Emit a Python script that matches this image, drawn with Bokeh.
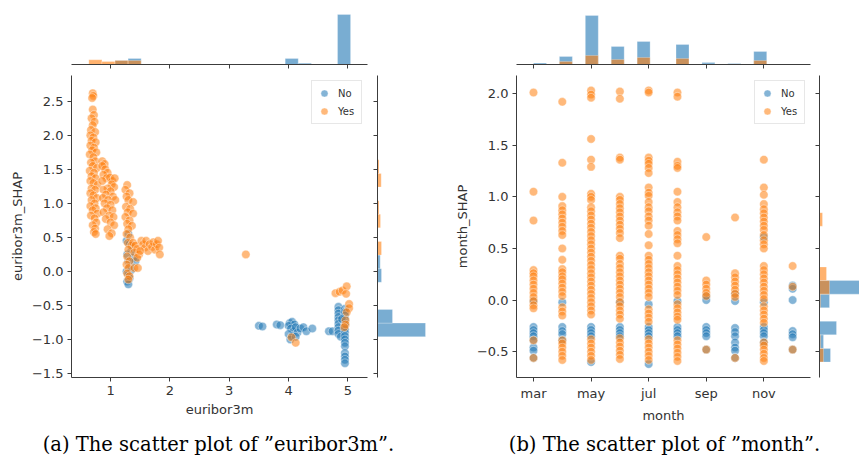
from bokeh.plotting import figure
from bokeh.layouts import row, column
from bokeh.models import FixedTicker, Range1d
from bokeh.core.properties import value
from bokeh.embed import file_html
from bokeh.resources import INLINE

BLUE = "#1f77b4"
ORANGE = "#ff7f0e"
TXT = "#333333"
AX = "#3c3c3c"
SANS = "DejaVu Sans"
SERIF = "DejaVu Serif"

# ---------------- panel (a): euribor3m ----------------
eur_ticks = [1, 2, 3, 4, 5]
eur_shap_ticks = [-1.5, -1.0, -0.5, 0.0, 0.5, 1.0, 1.5, 2.0, 2.5]

eur_no = [
    (1.30, 0.55), (1.27, 0.45), (1.32, 0.40), (1.35, 0.30), (1.28, 0.25), (1.30, 0.15),
    (1.33, 0.08), (1.27, 0.00), (1.30, -0.05), (1.32, -0.10), (1.28, -0.15), (1.30, -0.19),
    (1.35, 0.02), (1.38, 0.20), (1.42, 0.15),
    (3.50, -0.80), (3.56, -0.81), (3.80, -0.78), (3.86, -0.79), (4.02, -0.76), (4.06, -0.74),
    (4.10, -0.78), (4.00, -0.80), (4.04, -0.84), (4.08, -0.88), (4.12, -0.82), (4.00, -0.92),
    (4.06, -0.95), (4.15, -0.90), (4.03, -1.00), (4.20, -0.84), (4.25, -0.82), (4.30, -0.88),
    (4.40, -0.84), (4.12, -0.96),
    (4.68, -0.88), (4.74, -0.88), (4.84, -0.52), (4.84, -0.57), (4.84, -0.62), (4.84, -0.67),
    (4.84, -0.72), (4.84, -0.77), (4.84, -0.82), (4.84, -0.87), (4.84, -0.92), (4.88, -0.96),
    (4.95, -0.55), (4.95, -0.60), (4.95, -0.65), (4.95, -0.70), (4.95, -0.75), (4.95, -0.80),
    (4.95, -0.85), (4.95, -0.90), (4.95, -0.95), (4.95, -1.00), (4.95, -1.05), (4.95, -1.10),
    (4.95, -1.20), (4.95, -1.25), (4.95, -1.30), (4.95, -1.35), (4.90, -0.70),
]

eur_yes = [
    (0.70, 2.62), (0.71, 2.58), (0.69, 2.55), (0.70, 2.38), (0.72, 2.30), (0.68, 2.25),
    (0.73, 2.20), (0.70, 2.15), (0.67, 2.08), (0.74, 2.05), (0.66, 2.00), (0.71, 1.97),
    (0.68, 1.92), (0.75, 1.90), (0.66, 1.85), (0.72, 1.82), (0.69, 1.78), (0.76, 1.75),
    (0.65, 1.72), (0.71, 1.68), (0.74, 1.62), (0.67, 1.60), (0.70, 1.55), (0.77, 1.52),
    (0.65, 1.48), (0.72, 1.45), (0.68, 1.40), (0.75, 1.37), (0.66, 1.33), (0.71, 1.30),
    (0.78, 1.27), (0.68, 1.22), (0.74, 1.20), (0.66, 1.15), (0.71, 1.12), (0.77, 1.08),
    (0.68, 1.05), (0.73, 1.00), (0.66, 0.96), (0.75, 0.93), (0.70, 0.90), (0.78, 0.85),
    (0.67, 0.82), (0.73, 0.78), (0.76, 0.72), (0.70, 0.68), (0.74, 0.63), (0.72, 0.58),
    (0.75, 0.55),
    (0.86, 1.62), (0.90, 1.58), (0.86, 1.55), (0.91, 1.50), (0.95, 1.45), (0.88, 1.42),
    (0.93, 1.37), (0.86, 1.33), (0.99, 1.38), (1.03, 1.33), (1.07, 1.37), (1.02, 1.28),
    (1.06, 1.24), (0.95, 1.22), (0.88, 1.20), (1.00, 1.18), (0.92, 1.13), (1.04, 1.10),
    (0.87, 1.08), (0.96, 1.05), (1.08, 1.05), (0.90, 1.00), (1.00, 0.98), (0.94, 0.93),
    (1.03, 0.90), (0.88, 0.87), (0.98, 0.82), (1.05, 0.80), (0.92, 0.77), (1.00, 0.72),
    (1.06, 0.68), (0.95, 0.62), (1.02, 0.56), (0.98, 0.52),
    (1.28, 1.27), (1.25, 1.20), (1.32, 1.15), (1.27, 1.10), (1.30, 1.05), (1.38, 1.02),
    (1.26, 0.95), (1.33, 0.92), (1.29, 0.87), (1.38, 0.85), (1.25, 0.80), (1.32, 0.75),
    (1.28, 0.70), (1.36, 0.67), (1.30, 0.62), (1.27, 0.55), (1.33, 0.50), (1.29, 0.42),
    (1.35, 0.38), (1.30, 0.32), (1.28, 0.22), (1.32, 0.15), (1.27, 0.10), (1.30, 0.05),
    (1.40, 0.05), (1.46, 0.05), (1.28, -0.03), (1.32, -0.07), (1.30, -0.12),
    (1.38, 0.42), (1.42, 0.38), (1.45, 0.33), (1.40, 0.28), (1.48, 0.25), (1.52, 0.45),
    (1.55, 0.40), (1.58, 0.35), (1.60, 0.45), (1.63, 0.30), (1.66, 0.40), (1.70, 0.36),
    (1.72, 0.43), (1.75, 0.32), (1.78, 0.40), (1.80, 0.45), (1.82, 0.35), (1.83, 0.25),
    (1.45, 0.20), (1.50, 0.30),
    (3.28, 0.25),
    (4.05, -0.97), (4.12, -1.05),
    (4.79, -0.32), (4.86, -0.30), (4.91, -0.28), (4.98, -0.22), (4.97, -0.33), (5.02, -0.48),
    (5.02, -0.54), (4.98, -0.60), (4.96, -0.72), (4.96, -0.78), (4.94, -0.82),
]

eur_bins = [0.634, 0.855, 1.075, 1.296, 1.516, 1.737, 1.958, 2.178, 2.399, 2.619, 2.840,
            3.060, 3.281, 3.501, 3.722, 3.943, 4.163, 4.384, 4.604, 4.825, 5.045]
eur_no_counts = [0, 0, 4, 6, 0, 0, 0, 0, 0, 0, 0, 0, 0, 0, 0, 6, 1.3, 0, 0, 50]
eur_yes_counts = [4.7, 3, 4, 4, 0, 0, 0, 0, 0, 0, 0, 0, 0, 0, 0, 0, 0, 0, 0, 0]

eur_shap_bins = [-1.36, -1.16, -0.96, -0.76, -0.56, -0.36, -0.16, 0.04, 0.24, 0.44, 0.64,
                 0.84, 1.04, 1.24, 1.44, 1.64, 1.84, 2.04, 2.24, 2.44, 2.64]
eur_shap_no_counts = [0, 0, 48, 15, 0, 0, 4, 2.7, 0, 0, 0, 0, 0, 0, 0, 0, 0, 0, 0, 0]
eur_shap_yes_counts = [0, 0, 0, 0, 0, 0, 0, 0, 4, 0, 3, 1.5, 0, 3.7, 1.5, 0, 0, 0, 0, 0]

# ---------------- panel (b): month ----------------
month_ticks = [3, 5, 7, 9, 11]
month_tick_labels = ["mar", "may", "jul", "sep", "nov"]
month_shap_ticks = [-0.5, 0.0, 0.5, 1.0, 1.5, 2.0]
month_pos = {"mar": 3, "apr": 4, "may": 5, "jun": 6, "jul": 7,
             "aug": 8, "sep": 9, "oct": 10, "nov": 11, "dec": 12}

yes_mar = [2.01, 1.05, 0.77, 0.29, 0.26, 0.23, 0.19, 0.15, 0.11, 0.07, 0.03, -0.01, -0.05, -0.08, -0.39, -0.56]
no_mar = [-0.01, -0.26, -0.29, -0.32, -0.35, -0.39, -0.46, -0.49, -0.56]
yes_apr = [1.92, 1.33, 1.0, 0.91, 0.87, 0.83, 0.79, 0.75, 0.71, 0.67, 0.63, 0.5, 0.39, 0.3, 0.27, 0.23,
           0.2, 0.16, 0.12, 0.08, 0.04, -0.07, -0.11, -0.15, -0.39, -0.42, -0.46, -0.5, -0.54, -0.58]
no_apr = [-0.02, -0.26, -0.3, -0.33, -0.39]
yes_may = [2.03, 1.99, 1.96, 1.56, 1.36, 1.29, 1.03, 1.0, 0.97, 0.9, 0.86, 0.82, 0.78, 0.74, 0.7, 0.66,
           0.62, 0.58, 0.54, 0.5, 0.46, 0.42, 0.38, 0.34, 0.3, 0.26, 0.22, 0.18, 0.14, 0.1, 0.06, 0.02,
           -0.02, -0.06, -0.1, -0.14, -0.38, -0.42, -0.46, -0.5, -0.54, -0.58]
no_may = [-0.26, -0.29, -0.32, -0.35, -0.6]
yes_jun = [2.02, 1.95, 1.38, 1.36, 1.0, 0.97, 0.93, 0.89, 0.85, 0.81, 0.77, 0.73, 0.69, 0.65, 0.6, 0.43,
           0.4, 0.35, 0.31, 0.27, 0.23, 0.19, 0.15, 0.11, 0.07, 0.03, -0.02, -0.06, -0.1, -0.14, -0.18,
           -0.37, -0.41, -0.45, -0.49, -0.53, -0.57]
no_jun = [-0.02, -0.26, -0.29, -0.32, -0.35]
yes_jul = [2.03, 2.01, 1.38, 1.35, 1.32, 1.28, 1.23, 1.09, 1.04, 1.01, 0.95, 0.9, 0.86, 0.81, 0.77, 0.72,
           0.64, 0.53, 0.43, 0.39, 0.35, 0.31, 0.27, 0.23, 0.19, 0.15, 0.11, 0.07, 0.03, -0.09, -0.13,
           -0.17, -0.21, -0.38, -0.42, -0.46, -0.5, -0.54, -0.58]
no_jul = [-0.04, -0.26, -0.29, -0.32, -0.35, -0.62]
yes_aug = [2.01, 1.97, 1.34, 1.3, 1.28, 1.05, 0.95, 0.9, 0.85, 0.81, 0.77, 0.67, 0.63, 0.59, 0.55, 0.43,
           0.33, 0.29, 0.25, 0.21, 0.17, 0.13, 0.09, 0.05, -0.04, -0.08, -0.12, -0.16, -0.19, -0.39,
           -0.43, -0.47, -0.51, -0.55, -0.59]
no_aug = [-0.01, -0.26, -0.29, -0.32, -0.35]
yes_sep = [0.61, 0.19, 0.15, 0.11, 0.07, 0.04, -0.48]
no_sep = [0.04, 0.0, -0.26, -0.29, -0.32, -0.35, -0.48]
yes_oct = [0.8, 0.26, 0.22, 0.18, 0.14, 0.1, 0.06, 0.03, -0.56]
no_oct = [0.06, -0.01, -0.27, -0.31, -0.35, -0.41, -0.46, -0.49, -0.56]
yes_nov = [1.36, 1.09, 1.02, 0.93, 0.88, 0.84, 0.8, 0.76, 0.72, 0.68, 0.63, 0.58, 0.54, 0.5, 0.33, 0.29,
           0.25, 0.21, 0.17, 0.13, 0.09, 0.05, 0.01, -0.06, -0.1, -0.14, -0.18, -0.22, -0.41, -0.44,
           -0.48, -0.52, -0.56, -0.59]
no_nov = [0.61, -0.02, -0.26, -0.29, -0.32, -0.35, -0.41]
yes_dec = [0.33, 0.13, -0.48]
no_dec = [0.14, 0.11, 0.0, -0.3, -0.33, -0.36, -0.48]

month_yes = {"mar": yes_mar, "apr": yes_apr, "may": yes_may, "jun": yes_jun, "jul": yes_jul,
             "aug": yes_aug, "sep": yes_sep, "oct": yes_oct, "nov": yes_nov, "dec": yes_dec}
month_no = {"mar": no_mar, "apr": no_apr, "may": no_may, "jun": no_jun, "jul": no_jul,
            "aug": no_aug, "sep": no_sep, "oct": no_oct, "nov": no_nov, "dec": no_dec}

month_bins = [3.0, 3.45, 3.9, 4.35, 4.8, 5.25, 5.7, 6.15, 6.6, 7.05, 7.5,
              7.95, 8.4, 8.85, 9.3, 9.75, 10.2, 10.65, 11.1, 11.55, 12.0]
month_no_counts = [1.5, 0, 8, 0, 49, 0, 18, 0, 23, 0, 0, 20, 0, 2, 0, 1, 0, 13, 0, 0.4]
month_yes_counts = [0.4, 0, 3, 0, 9, 0, 5, 0, 7, 0, 0, 6, 0, 0.5, 0, 0.5, 0, 4, 0, 0.3]

month_shap_bins = [-0.6, -0.4685, -0.337, -0.2055, -0.074, 0.0575, 0.189, 0.3205, 0.452, 0.5835,
                   0.715, 0.8465, 0.978, 1.1095, 1.241, 1.3725, 1.504, 1.6355, 1.767, 1.8985, 2.03]
month_shap_no_counts = [11, 4, 17, 0, 10, 50, 0, 0, 0, 0, 0, 0, 0, 0, 0, 0, 0, 0, 0, 0]
month_shap_yes_counts = [4, 1, 0, 0, 1, 10, 7, 0, 0, 0, 3, 0, 0, 0, 0, 0, 0, 0, 0, 0]

captions = ["(a) The scatter plot of \u201deuribor3m\u201d.",
            "(b) The scatter plot of \u201dmonth\u201d."]


# ---------------- helpers ----------------
def fmt(v):
    return f"{v:.1f}".replace("-", "\u2212")


def make_fig(**kw):
    p = figure(output_backend="svg", toolbar_location=None, outline_line_color=None,
               background_fill_color="white", border_fill_color="white", **kw)
    p.grid.visible = False
    return p


def style_axis(ax, ticks, overrides=None, show_labels=True, label=None):
    ax.ticker = FixedTicker(ticks=ticks)
    ax.minor_tick_line_color = None
    ax.major_tick_in = 0
    ax.major_tick_out = 4
    ax.major_tick_line_color = AX
    ax.major_tick_line_width = 1
    ax.axis_line_color = AX
    ax.axis_line_width = 1
    if overrides:
        ax.major_label_overrides = overrides
    ax.major_label_text_font = SANS
    if show_labels:
        ax.major_label_text_color = TXT
        ax.major_label_text_font_size = "13px"
        ax.major_label_standoff = 4
    else:
        ax.major_label_text_color = None
        ax.major_label_text_font_size = "1px"
        ax.major_label_standoff = 0
    if label:
        ax.axis_label = label
        ax.axis_label_text_font = SANS
        ax.axis_label_text_font_size = "13px"
        ax.axis_label_text_font_style = "normal"
        ax.axis_label_text_color = TXT
        ax.axis_label_standoff = 4


def scatter_panel(p, no_x, no_y, yes_x, yes_y):
    p.scatter(no_x, no_y, size=8.5, fill_color=BLUE, fill_alpha=0.55, line_color="white",
              line_width=0.6, line_alpha=0.7, legend_label="No")
    p.scatter(yes_x, yes_y, size=8.5, fill_color=ORANGE, fill_alpha=0.55, line_color="white",
              line_width=0.6, line_alpha=0.7, legend_label="Yes")
    lg = p.legend[0]
    lg.location = "top_right"
    lg.margin = 5
    lg.padding = 3
    lg.spacing = -4
    lg.glyph_width = 18
    lg.glyph_height = 18
    lg.label_height = 12
    lg.label_standoff = 5
    lg.label_text_font = SANS
    lg.label_text_font_size = "10px"
    lg.label_text_color = TXT
    lg.border_line_color = "#d0d0d0"
    lg.border_line_width = 1
    lg.background_fill_alpha = 0.85


def top_hist(p, bins, no_counts, yes_counts):
    p.quad(left=bins[:-1], right=bins[1:], bottom=0, top=no_counts, fill_color=BLUE,
           fill_alpha=0.6, line_color="white", line_width=0.5, line_alpha=0.5)
    p.quad(left=bins[:-1], right=bins[1:], bottom=0, top=yes_counts, fill_color=ORANGE,
           fill_alpha=0.6, line_color="white", line_width=0.5, line_alpha=0.5)


def side_hist(p, bins, no_counts, yes_counts):
    p.quad(bottom=bins[:-1], top=bins[1:], left=0, right=no_counts, fill_color=BLUE,
           fill_alpha=0.6, line_color="white", line_width=0.5, line_alpha=0.5)
    p.quad(bottom=bins[:-1], top=bins[1:], left=0, right=yes_counts, fill_color=ORANGE,
           fill_alpha=0.6, line_color="white", line_width=0.5, line_alpha=0.5)


def caption_fig(w, text, cx):
    p = make_fig(x_range=Range1d(0, w), y_range=Range1d(0, CAP_H), width=w, height=CAP_H,
                 min_border=0, min_border_left=0, min_border_right=0, min_border_top=0,
                 min_border_bottom=0, x_axis_location=None, y_axis_location=None)
    p.text(x=[cx], y=[CAP_H - 19], text=[text], text_align="center", text_baseline="middle",
           text_font=value(SERIF), text_font_size=value("19.5px"), text_color="black")
    return p


TOP_H = 54
MAIN_H = 302
BOT = 44
CAP_H = 35

# ---------------- panel (a) figures ----------------
a_x = Range1d(0.342, 5.33)
a_y = Range1d(-1.56, 2.88)

a_main = make_fig(x_range=a_x, y_range=a_y, frame_width=296, frame_height=MAIN_H,
                  min_border_left=71, min_border_right=5, min_border_top=5, min_border_bottom=BOT)
scatter_panel(a_main, [p[0] for p in eur_no], [p[1] for p in eur_no],
              [p[0] for p in eur_yes], [p[1] for p in eur_yes])
style_axis(a_main.xaxis[0], eur_ticks, {t: str(t) for t in eur_ticks}, label="euribor3m")
style_axis(a_main.yaxis[0], eur_shap_ticks, {t: fmt(t) for t in eur_shap_ticks}, label="euribor3m_SHAP")

a_top = make_fig(x_range=a_x, y_range=Range1d(0, TOP_H), frame_width=296, frame_height=TOP_H,
                 min_border_left=71, min_border_right=63, min_border_top=10, min_border_bottom=6)
top_hist(a_top, eur_bins, eur_no_counts, eur_yes_counts)
a_top.yaxis.visible = False
style_axis(a_top.xaxis[0], eur_ticks, show_labels=False)

a_side = make_fig(x_range=Range1d(0, 53), y_range=a_y, frame_width=53, frame_height=MAIN_H,
                  min_border_left=5, min_border_right=0, min_border_top=5, min_border_bottom=BOT)
side_hist(a_side, eur_shap_bins, eur_shap_no_counts, eur_shap_yes_counts)
a_side.xaxis.visible = False
style_axis(a_side.yaxis[0], eur_shap_ticks, show_labels=False)

a_cap = caption_fig(430, captions[0], 218)

# ---------------- panel (b) figures ----------------
b_x = Range1d(2.41, 12.62)
b_y = Range1d(-0.75, 2.175)

b_main = make_fig(x_range=b_x, y_range=b_y, frame_width=294, frame_height=MAIN_H,
                  min_border_left=86, min_border_right=5, min_border_top=5, min_border_bottom=BOT)
bnx, bny, byx, byy = [], [], [], []
for m, vals in month_no.items():
    bnx += [month_pos[m]] * len(vals)
    bny += vals
for m, vals in month_yes.items():
    byx += [month_pos[m]] * len(vals)
    byy += vals
scatter_panel(b_main, bnx, bny, byx, byy)
style_axis(b_main.xaxis[0], month_ticks, dict(zip(month_ticks, month_tick_labels)), label="month")
style_axis(b_main.yaxis[0], month_shap_ticks, {t: fmt(t) for t in month_shap_ticks}, label="month_SHAP")

b_top = make_fig(x_range=b_x, y_range=Range1d(0, TOP_H), frame_width=294, frame_height=TOP_H,
                 min_border_left=86, min_border_right=49, min_border_top=10, min_border_bottom=6)
top_hist(b_top, month_bins, month_no_counts, month_yes_counts)
b_top.yaxis.visible = False
style_axis(b_top.xaxis[0], month_ticks, show_labels=False)

b_side = make_fig(x_range=Range1d(0, 40), y_range=b_y, frame_width=40, frame_height=MAIN_H,
                  min_border_left=4, min_border_right=0, min_border_top=5, min_border_bottom=BOT)
side_hist(b_side, month_shap_bins, month_shap_no_counts, month_shap_yes_counts)
b_side.xaxis.visible = False
style_axis(b_side.yaxis[0], month_shap_ticks, show_labels=False)

b_cap = caption_fig(429, captions[1], 234)

# captions sit in their own row so the column does not align their frames with the histograms
upper = row(column(a_top, row(a_main, a_side)), column(b_top, row(b_main, b_side)))
lower = row(a_cap, b_cap)
layout = column(upper, lower)

open("out.html", "w").write(file_html(layout, INLINE))
